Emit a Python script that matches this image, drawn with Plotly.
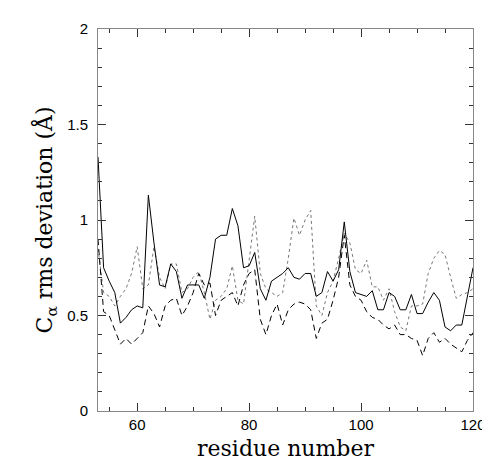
import plotly.graph_objects as go

residue = list(range(53, 121))

rms_solid = [1.33, 0.75, 0.68, 0.62, 0.46, 0.49, 0.53, 0.55, 0.54, 1.13,
             0.88, 0.66, 0.65, 0.77, 0.73, 0.59, 0.66, 0.66, 0.66, 0.59,
             0.70, 0.90, 0.92, 0.92, 1.06, 0.97, 0.75, 0.76, 0.83, 0.64,
             0.58, 0.68, 0.70, 0.72, 0.75, 0.70, 0.69, 0.72, 0.72, 0.60,
             0.62, 0.73, 0.68, 0.74, 0.99, 0.73, 0.62, 0.61, 0.60, 0.63,
             0.53, 0.53, 0.62, 0.60, 0.53, 0.53, 0.61, 0.51, 0.51, 0.57,
             0.62, 0.58, 0.44, 0.42, 0.45, 0.45, 0.60, 0.75]

rms_dotted = [0.85, 0.62, 0.60, 0.55, 0.60, 0.64, 0.72, 0.86, 0.64, 0.66,
              0.86, 0.70, 0.64, 0.77, 0.77, 0.62, 0.64, 0.70, 0.73, 0.62,
              0.48, 0.58, 0.60, 0.64, 0.76, 0.58, 0.56, 0.78, 1.02, 0.72,
              0.64, 0.62, 0.60, 0.62, 0.80, 1.01, 0.92, 1.00, 1.05, 0.55,
              0.50, 0.62, 0.68, 0.80, 0.93, 0.88, 0.74, 0.72, 0.79, 0.65,
              0.65, 0.58, 0.64, 0.52, 0.44, 0.42, 0.55, 0.55, 0.56, 0.72,
              0.80, 0.84, 0.82, 0.70, 0.59, 0.61, 0.62, 0.64]

rms_dashed = [0.90, 0.52, 0.50, 0.42, 0.35, 0.38, 0.35, 0.38, 0.41, 0.55,
              0.51, 0.44, 0.55, 0.58, 0.59, 0.50, 0.55, 0.62, 0.72, 0.66,
              0.67, 0.50, 0.58, 0.60, 0.62, 0.55, 0.66, 0.72, 0.74, 0.48,
              0.40, 0.50, 0.56, 0.45, 0.53, 0.56, 0.57, 0.56, 0.53, 0.38,
              0.46, 0.48, 0.58, 0.70, 0.92, 0.66, 0.60, 0.58, 0.52, 0.49,
              0.48, 0.45, 0.43, 0.45, 0.40, 0.40, 0.38, 0.37, 0.29, 0.38,
              0.41, 0.36, 0.38, 0.35, 0.33, 0.31, 0.37, 0.41]

fig = go.Figure()
fig.add_trace(go.Scatter(x=residue, y=rms_dotted, mode="lines",
                         line=dict(color="#777777", width=1, dash="dot")))
fig.add_trace(go.Scatter(x=residue, y=rms_dashed, mode="lines",
                         line=dict(color="black", width=1, dash="6px,4px")))
fig.add_trace(go.Scatter(x=residue, y=rms_solid, mode="lines",
                         line=dict(color="black", width=1)))

axis_style = dict(showline=True, linecolor="#888888", linewidth=1, mirror="ticks",
                  ticks="inside", ticklen=8, tickcolor="#333333", showgrid=False,
                  zeroline=False, tickfont=dict(family="Liberation Sans", size=15, color="black"))

fig.update_xaxes(range=[53, 120], tick0=0, dtick=20,
                 minor=dict(dtick=5, ticks="inside", ticklen=4, tickcolor="#333333"),
                 title=dict(text="residue number", standoff=8,
                            font=dict(family="DejaVu Serif", size=22, color="black")),
                 **axis_style)
fig.update_yaxes(range=[0, 2], tick0=0, dtick=0.5, ticklabelstandoff=6,
                 minor=dict(dtick=0.1, ticks="inside", ticklen=4, tickcolor="#333333"),
                 title=dict(text="C<sub>α</sub> rms deviation (Å)", standoff=8,
                            font=dict(family="DejaVu Serif", size=22, color="black")),
                 **axis_style)

fig.update_layout(width=490, height=461, showlegend=False,
                  paper_bgcolor="white", plot_bgcolor="white",
                  margin=dict(l=90, r=17, t=18, b=58))
fig.write_html("out.html")
